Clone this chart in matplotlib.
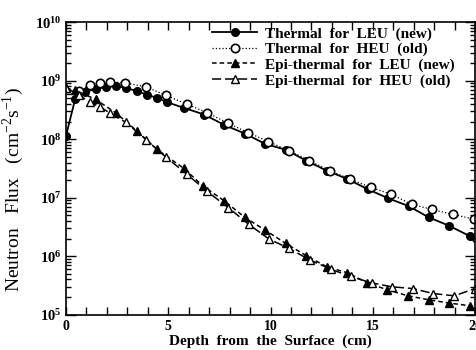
import numpy as np
import matplotlib
matplotlib.use("Agg")
import matplotlib.pyplot as plt

plt.rcParams['font.family'] = ['Liberation Serif', 'DejaVu Serif']
plt.rcParams['mathtext.fontset'] = 'custom'
plt.rcParams['mathtext.rm'] = 'Liberation Serif'
plt.rcParams['mathtext.bf'] = 'Liberation Serif:bold'

# thermal flux, LEU core (new)
x_th_leu = [0, 0.45, 0.95, 1.45, 1.95, 2.45, 2.95, 3.45, 3.95, 4.45, 4.95, 5.75, 6.75,
            7.75, 8.75, 9.75, 10.75, 11.75, 12.75, 13.75, 14.75, 15.75, 16.75, 17.75,
            18.75, 19.75, 20.75]
y_th_leu = [1.15e8, 4.9e8, 6.5e8, 7.2e8, 7.8e8, 8.2e8, 7.5e8, 6.7e8, 5.8e8, 5.1e8, 4.3e8,
            3.45e8, 2.65e8, 1.75e8, 1.25e8, 8.3e7, 6.6e7, 4.3e7, 2.9e7, 2.1e7, 1.4e7,
            9.8e6, 7.2e6, 4.6e6, 3.3e6, 2.2e6, 8.0e5]

# thermal flux, HEU core (old)
x_th_heu = [0.65, 1.15, 1.65, 2.15, 2.9, 3.9, 4.9, 5.9, 6.9, 7.9, 8.9, 9.9, 10.9, 11.9,
            12.9, 13.9, 14.9, 15.9, 16.9, 17.9, 18.9, 19.95]
y_th_heu = [6.6e8, 8.5e8, 9.1e8, 9.6e8, 9.2e8, 7.9e8, 5.6e8, 4.0e8, 2.85e8, 1.9e8, 1.3e8,
            9.1e7, 6.4e7, 4.3e7, 2.9e7, 2.07e7, 1.5e7, 1.15e7, 7.7e6, 6.3e6, 5.2e6, 4.3e6]

# epi-thermal flux, LEU core (new)
x_ep_leu = [0, 0.45, 1.45, 2.45, 3.45, 4.45, 5.75, 6.7, 7.73, 8.75, 9.73, 10.74, 11.75,
            12.75, 13.76, 14.74, 15.72, 16.73, 17.73, 18.74, 19.77]
y_ep_leu = [7.6e8, 6.9e8, 4.8e8, 2.8e8, 1.4e8, 6.7e7, 3.2e7, 1.58e7, 8.9e6, 4.6e6, 2.8e6,
            1.66e6, 1.02e6, 6.6e5, 5.2e5, 3.5e5, 2.66e5, 2.1e5, 1.8e5, 1.58e5, 1.42e5]

# epi-thermal flux, HEU core (old)
x_ep_heu = [0, 0.65, 1.15, 1.65, 2.15, 2.92, 3.92, 4.9, 5.9, 6.88, 7.93, 8.94, 9.92, 10.9,
            11.93, 12.94, 13.92, 14.94, 15.93, 16.95, 17.96, 18.99, 20.0]
y_ep_heu = [7.6e8, 5.7e8, 4.3e8, 3.6e8, 2.8e8, 1.95e8, 9.8e7, 4.9e7, 2.55e7, 1.3e7, 6.8e6,
            3.5e6, 1.97e6, 1.36e6, 8.6e5, 6.0e5, 4.5e5, 3.5e5, 3.0e5, 2.8e5, 2.3e5, 2.1e5,
            2.8e5]

labels = ['Thermal  for  LEU  (new)', 'Thermal  for  HEU  (old)',
          'Epi-thermal  for  LEU  (new)', 'Epi-thermal  for  HEU  (old)']
x_ticks = [0, 5, 10, 15, 20]
y_exps = [5, 6, 7, 8, 9, 10]

fig = plt.figure(figsize=(4.77, 3.5), dpi=100)
ax = fig.add_axes([0.1384, 0.1009, 0.8574, 0.8354])

ax.plot(x_th_leu, y_th_leu, '-', color='k', lw=1.3, marker='o', ms=5.5,
        mfc='k', mec='k', label=labels[0])
ax.plot(x_th_heu, y_th_heu, ':', color='k', lw=0.9, marker='o', ms=6,
        mfc='white', mec='k', mew=1.2, label=labels[1])
ax.plot(x_ep_leu, y_ep_leu, color='k', lw=1.1, ls=(0, (3, 2)), marker='^', ms=5.5,
        mfc='k', mec='k', label=labels[2])
ax.plot(x_ep_heu, y_ep_heu, color='k', lw=1.1, ls=(0, (6, 2.5)), marker='^', ms=5.5,
        mfc='white', mec='k', mew=1.0, label=labels[3])

ax.set_yscale('log')
ax.set_xlim(0, 20)
ax.set_ylim(1e5, 1e10)

ax.set_xticks(x_ticks)
ax.set_xticklabels([str(v) for v in x_ticks], fontweight='bold', fontsize=10)
ax.set_xticks(np.arange(0, 21, 1), minor=True)
ax.set_yticks([10.0 ** e for e in y_exps])
ax.set_yticklabels([r'$\mathbf{10^{%d}}$' % e for e in y_exps], fontsize=10.5)
ax.yaxis.set_minor_locator(matplotlib.ticker.LogLocator(base=10, subs=np.arange(2, 10)))
ax.yaxis.set_minor_formatter(matplotlib.ticker.NullFormatter())

ax.tick_params(which='both', direction='in', top=True, right=True, width=1.0)
ax.tick_params(axis='x', which='both', length=6, pad=4)
ax.tick_params(axis='y', which='major', length=7, pad=3)
ax.tick_params(axis='y', which='minor', length=3.5)
for s in ax.spines.values():
    s.set_linewidth(1.2)

ax.set_xlabel('Depth  from  the  Surface  (cm)', fontweight='bold', fontsize=11, labelpad=1)
ax.set_ylabel(r'Neutron   Flux   (cm$^{-2}$s$^{-1}$)', fontsize=14)
ax.yaxis.set_label_coords(-0.098, 0.43)

ax.legend(loc='upper left', bbox_to_anchor=(0.356, 0.985), frameon=False,
          prop={'weight': 'bold', 'size': 11}, handlelength=3.0, handletextpad=0.5,
          labelspacing=0.12, borderpad=0, borderaxespad=0)

fig.savefig('out.png', dpi=100)
